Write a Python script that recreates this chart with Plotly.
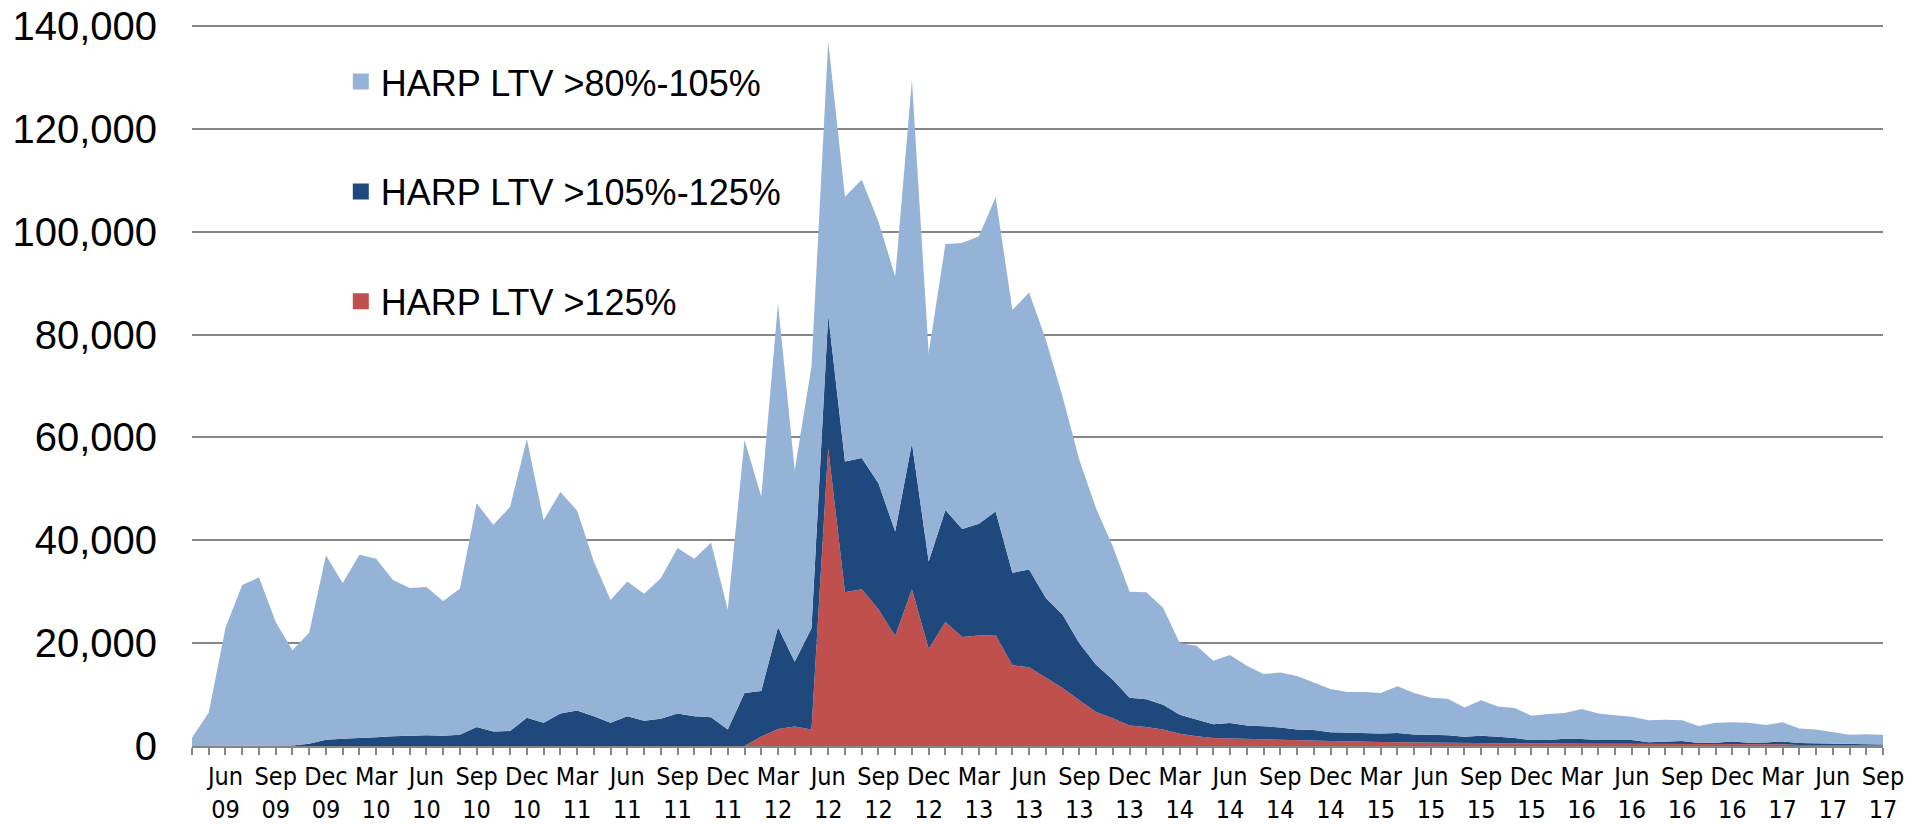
import pandas as pd
import plotly.graph_objects as go

# Monthly categories: Apr 2009 .. Sep 2017
months = pd.date_range("2009-04-01", periods=102, freq="MS")
month_keys = [m.strftime("%b %Y") for m in months]

# HARP refinance volumes by LTV bucket
ltv_80_105 = [
    1600, 6500, 23000, 31300, 32800, 24100, 18500, 21550, 35900, 30300,
    35700, 34700, 30400, 28700, 28800, 26200, 28400, 43500, 40200, 43600,
    54200, 39400, 43100, 38900, 30100, 23900, 26200, 24700, 27300, 32200,
    30600, 33900, 23300, 49200, 37800, 63000, 37200, 50900, 53200, 51500,
    54100, 50900, 49600, 70600, 40500, 51700, 55600, 55900, 61100, 51100,
    53900, 50200, 42400, 35600, 30400, 25900, 20600, 20800, 18900, 13900,
    14300, 12350, 13250, 11600, 10150, 10700, 10400, 9300, 8450, 7950,
    8050, 7850, 9050, 8050, 7200, 7100, 5700, 6900, 5900, 5850,
    4750, 5050, 5000, 5850, 5150, 4900, 4550, 4250, 4300, 4050,
    3340, 3880, 3720, 3880, 3410, 3720, 2840, 2700, 2270, 1900,
    1930, 1900,
]
ltv_105_125 = [
    0, 0, 0, 0, 0, 0, 100, 450, 1200, 1400,
    1500, 1700, 1900, 2000, 2100, 2000, 2200, 3700, 2800, 2900,
    5500, 4500, 6300, 6900, 5800, 4500, 5800, 4900, 5300, 6300,
    5800, 5600, 3200, 10300, 8850, 19800, 12600, 19700, 25900, 25400,
    25500, 24500, 20300, 28400, 17000, 21800, 21000, 21700, 24000, 18000,
    19000, 15500, 14200, 11100, 9200, 7500, 5400, 5400, 4800, 3700,
    3300, 2700, 3000, 2650, 2550, 2450, 2050, 2100, 1700, 1650,
    1650, 1650, 1800, 1550, 1500, 1500, 1250, 1450, 1300, 1050,
    670, 680, 900, 890, 710, 680, 730, 400, 460, 610,
    280, 330, 550, 340, 410, 560, 360, 310, 280, 200,
    260, 200,
]
ltv_over_125 = [
    0, 0, 0, 0, 0, 0, 0, 0, 0, 0,
    0, 0, 0, 0, 0, 0, 0, 0, 0, 0,
    0, 0, 0, 0, 0, 0, 0, 0, 0, 0,
    0, 0, 0, 0, 1850, 3300, 3800, 3200, 57900, 29900,
    30500, 26600, 21400, 30500, 18900, 24100, 21200, 21500, 21600, 15700,
    15300, 13300, 11300, 8900, 6600, 5400, 4000, 3700, 3200, 2400,
    1900, 1550, 1450, 1350, 1300, 1150, 1150, 1000, 950, 900,
    800, 800, 750, 700, 700, 600, 550, 550, 500, 500,
    480, 470, 500, 460, 440, 420, 420, 350, 340, 340,
    280, 290, 330, 280, 280, 320, 200, 190, 150, 100,
    110, 100,
]

series_names = ["HARP LTV >80%-105%", "HARP LTV >105%-125%", "HARP LTV >125%"]
series_colors = ["#95B3D7", "#1F497D", "#C0504D"]

# Tick labels: every third month starting at Jun 09
tick_text = []
for k, m in enumerate(months):
    if k >= 2 and (k - 2) % 3 == 0:
        tick_text.append(m.strftime("%b") + "<br>" + m.strftime("%y"))
    else:
        tick_text.append("")

fig = go.Figure()
# stacked areas: bottom first
for vals, name, col in [
    (ltv_over_125, series_names[2], series_colors[2]),
    (ltv_105_125, series_names[1], series_colors[1]),
    (ltv_80_105, series_names[0], series_colors[0]),
]:
    fig.add_trace(go.Scatter(
        x=month_keys, y=vals, name=name, mode="lines",
        stackgroup="one", line=dict(width=0, color=col),
        fillcolor=col, showlegend=False, hoverinfo="x+y+name",
    ))

# legend entries (square swatches)
for name, col in zip(series_names, series_colors):
    fig.add_trace(go.Scatter(
        x=[None], y=[None], name=name, mode="markers",
        marker=dict(symbol="square", size=16, color=col),
        legendgroup=name, showlegend=True,
    ))

fig.update_layout(
    width=1921, height=824,
    margin=dict(l=192, r=38, t=25, b=78),
    plot_bgcolor="white", paper_bgcolor="white",
    font=dict(family="Arial, Liberation Sans, sans-serif", color="black"),
    showlegend=True,
    legend=dict(
        x=0.088, y=0.963, xanchor="left", yanchor="top",
        font=dict(size=36, family="Arial, Liberation Sans, sans-serif", color="black"),
        tracegroupgap=60, bgcolor="rgba(0,0,0,0)", itemsizing="trace",
    ),
)
fig.update_xaxes(
    type="category", categoryorder="array", categoryarray=month_keys,
    range=[0, len(month_keys) - 1], automargin=False,
    tickmode="array", tickvals=month_keys, ticktext=tick_text,
    ticks="outside", ticklen=7, tickwidth=2, tickcolor="#868686",
    showline=True, linecolor="#868686", linewidth=2,
    showgrid=False, tickangle=0,
    tickfont=dict(family="Liberation Sans Narrow, Arial Narrow, DejaVu Sans Condensed, sans-serif",
                  size=25, color="black"),
)
fig.update_yaxes(
    range=[0, 140200], tickmode="linear", tick0=0, dtick=20000, tickformat=",",
    automargin=False,
    showgrid=True, gridcolor="#868686", gridwidth=1.5,
    zeroline=False, showline=False, ticks="",
    ticklabelstandoff=34,
    tickfont=dict(family="Arial, Liberation Sans, sans-serif", size=40, color="black"),
)

fig.write_html("out.html", config={"displayModeBar": False},
               post_script="document.body.style.margin='0';")
